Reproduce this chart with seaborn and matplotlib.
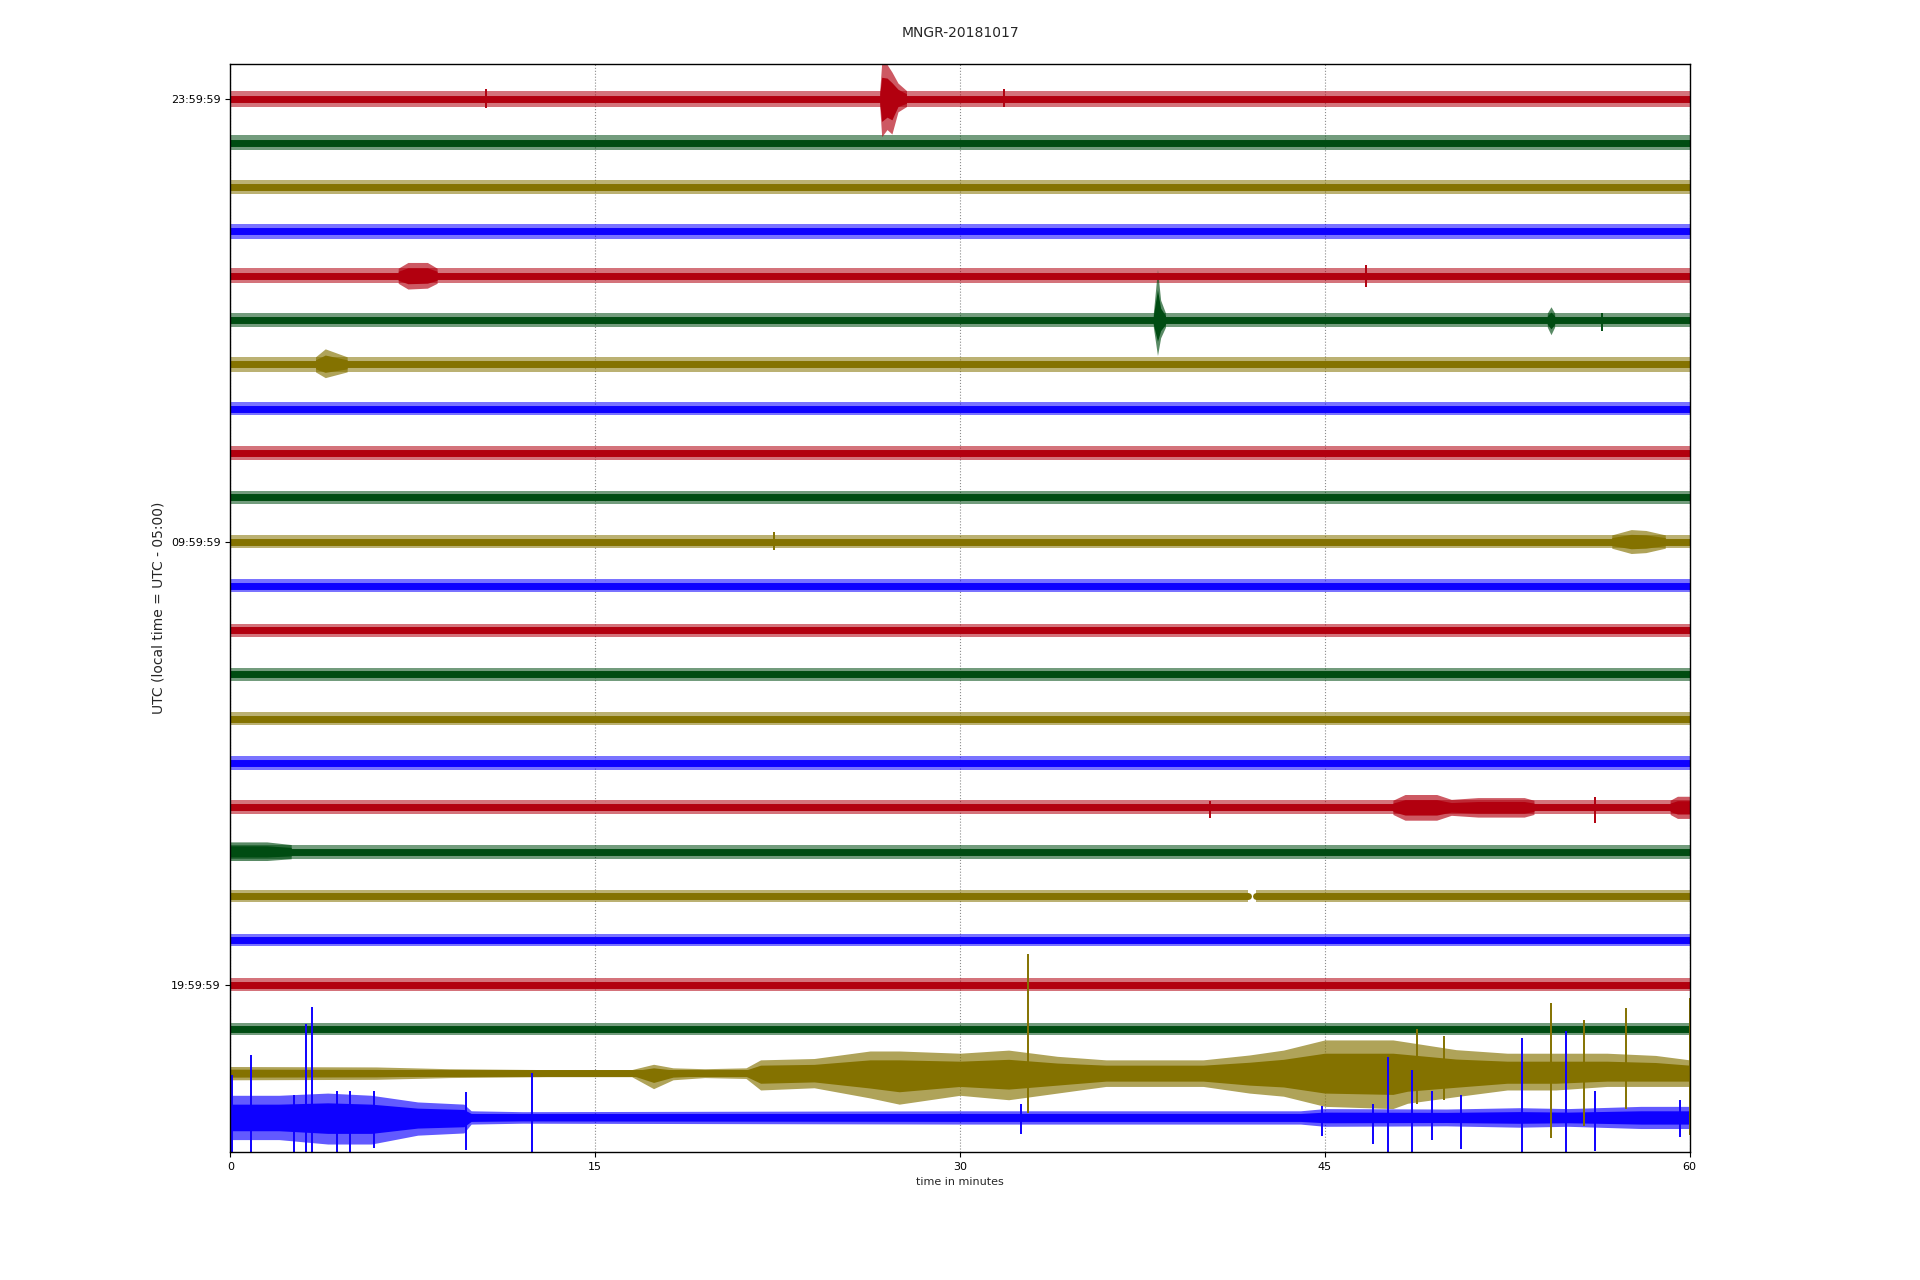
"""
Day plot of the MNGR station, one hour per line, 24 lines.
"""
import matplotlib
matplotlib.use("Agg")
import matplotlib.pyplot as plt
import pandas as pd
import seaborn as sns

TITLE = "MNGR-20181017"
TRACE_COLORS = ["#B2000F", "#004C12", "#847200", "#0E01FF"]
N_LINES = 24
YTICK_LINES = [0, 10, 20]
YTICK_LABELS = ["23:59:59", "09:59:59", "19:59:59"]
XTICKS = [0, 15, 30, 45, 60]

# half-width of the background noise of every line (unit = line spacing)
noise_level = [0.18, 0.17, 0.16, 0.16, 0.17, 0.16, 0.17, 0.15,
               0.15, 0.15, 0.15, 0.15, 0.15, 0.14, 0.15, 0.15,
               0.16, 0.16, 0.14, 0.14, 0.15, 0.14, 0.15, 0.15]

# parts of a line holding data (line 18 has a short gap)
segments = {18: [(0, 41.85), (42.16, 60)]}

# envelope of the two last lines, which are far from flat
olive_times = [0, 6, 9, 13, 16.5, 17.4, 18.2, 19.5, 21.2, 21.8, 24, 26.3, 27.5,
               30, 32, 34, 36, 40, 41.9, 43.3, 45, 47.8, 48.4, 50.4, 52.5,
               54.5, 56.6, 58.6, 60]
olive_up = [0.15, 0.14, 0.10, 0.08, 0.08, 0.20, 0.12, 0.10, 0.12, 0.30, 0.33, 0.50, 0.50,
            0.45, 0.52, 0.38, 0.30, 0.30, 0.41, 0.52, 0.75, 0.75, 0.70, 0.53, 0.45,
            0.45, 0.45, 0.40, 0.30]
olive_down = [0.15, 0.14, 0.10, 0.08, 0.08, 0.35, 0.15, 0.10, 0.12, 0.38, 0.33, 0.56, 0.70,
              0.50, 0.60, 0.45, 0.30, 0.30, 0.45, 0.52, 0.75, 0.80, 0.68, 0.53, 0.38,
              0.38, 0.30, 0.30, 0.30]

blue_times = [0, 2, 4, 5.8, 7.7, 9.6, 9.9, 12, 30, 44, 45, 50, 53, 55, 58, 60]
blue_up = [0.50, 0.50, 0.55, 0.50, 0.35, 0.30, 0.15, 0.13, 0.15, 0.15, 0.20, 0.19, 0.22, 0.20, 0.25, 0.25]
blue_down = [0.50, 0.50, 0.60, 0.60, 0.40, 0.35, 0.15, 0.13, 0.15, 0.15, 0.20, 0.19, 0.22, 0.20, 0.25, 0.25]

envelopes = {
    22: (olive_times, olive_up, olive_down),
    23: (blue_times, blue_up, blue_down),
}

# short bursts: line, minutes, upper half-width, lower half-width
bursts = [
    (0, [26.7, 26.78, 27.0, 27.2, 27.45, 27.8], [0.18, 0.80, 0.77, 0.60, 0.35, 0.18], [0.18, 0.86, 0.70, 0.80, 0.30, 0.18]),
    (4, [6.9, 7.3, 8.1, 8.5], [0.17, 0.30, 0.30, 0.17], [0.17, 0.30, 0.28, 0.17]),
    (5, [37.95, 38.12, 38.25, 38.45], [0.16, 1.14, 0.45, 0.16], [0.16, 0.80, 0.40, 0.16]),
    (5, [54.15, 54.3, 54.45], [0.16, 0.30, 0.16], [0.16, 0.33, 0.16]),
    (6, [3.5, 3.9, 4.8], [0.17, 0.35, 0.17], [0.17, 0.30, 0.17]),
    (10, [56.8, 57.6, 58.2, 59.0], [0.15, 0.27, 0.25, 0.15], [0.15, 0.27, 0.25, 0.15]),
    (16, [47.8, 48.3, 49.6, 50.2, 51.3, 53.2, 53.6], [0.16, 0.29, 0.29, 0.18, 0.22, 0.22, 0.16],
     [0.16, 0.29, 0.29, 0.18, 0.22, 0.22, 0.16]),
    (16, [59.2, 59.5, 60], [0.16, 0.25, 0.25], [0.16, 0.25, 0.25]),
    (17, [0, 1.5, 2.5], [0.22, 0.22, 0.16], [0.20, 0.20, 0.16]),
]

# single spikes: (line, minute, up, down)
spikes = [
    (0, 10.5, 0.22, 0.22), (0, 31.8, 0.22, 0.20),
    (4, 46.7, 0.25, 0.25), (5, 56.4, 0.15, 0.25),
    (10, 22.35, 0.22, 0.20), (16, 40.3, 0.15, 0.25), (16, 56.1, 0.24, 0.36),
    (22, 32.8, 2.7, 0.9), (22, 48.8, 1.0, 0.7), (22, 49.9, 0.83, 0.6),
    (22, 54.3, 1.58, 1.47), (22, 55.65, 1.2, 1.2), (22, 57.4, 1.47, 0.8),
    (22, 60.0, 1.7, 1.4),
    (23, 0.05, 0.95, 0.9), (23, 0.83, 1.4, 0.9), (23, 2.6, 0.5, 0.9),
    (23, 3.1, 2.1, 0.9), (23, 3.35, 2.5, 0.9), (23, 4.4, 0.6, 0.9),
    (23, 4.9, 0.6, 0.9), (23, 5.9, 0.6, 0.7), (23, 9.7, 0.57, 0.74),
    (23, 12.4, 1.0, 0.9), (23, 32.5, 0.3, 0.38), (23, 44.9, 0.25, 0.42),
    (23, 47.0, 0.3, 0.6), (23, 47.6, 1.36, 0.9), (23, 48.6, 1.06, 0.9),
    (23, 49.4, 0.6, 0.5), (23, 50.6, 0.5, 0.72), (23, 53.1, 1.8, 0.9),
    (23, 54.9, 1.95, 0.9), (23, 56.1, 0.6, 0.75), (23, 59.6, 0.4, 0.45),
]


def line_color(line):
    return TRACE_COLORS[line % len(TRACE_COLORS)]


sns.set_style("ticks")
fig, ax = plt.subplots(figsize=(19.2, 12.8), dpi=100)
fig.subplots_adjust(left=0.12, right=0.88, top=0.95, bottom=0.10)

# core of every line
records = []
for line in range(N_LINES):
    for k, (t0, t1) in enumerate(segments.get(line, [(0, 60)])):
        records.append([f"L{line}", f"L{line}-{k}", t0, line])
        records.append([f"L{line}", f"L{line}-{k}", t1, line])
df = pd.DataFrame(records, columns=["line", "piece", "minute", "y"])
palette = {f"L{i}": line_color(i) for i in range(N_LINES)}
sns.lineplot(data=df, x="minute", y="y", hue="line", units="piece", estimator=None,
             palette=palette, linewidth=5.0, legend=False, ax=ax)

# noise halo around each line
for line in range(N_LINES):
    c = line_color(line)
    if line in envelopes:
        times, up, down = envelopes[line]
        ax.fill_between(times, [line - u for u in up], [line + d for d in down],
                        color=c, alpha=0.65, lw=0)
        ax.fill_between(times, [line - 0.6 * u for u in up], [line + 0.6 * d for d in down],
                        color=c, lw=0)
        continue
    n = noise_level[line]
    for t0, t1 in segments.get(line, [(0, 60)]):
        ax.fill_between([t0, t1], line - n, line + n, color=c, alpha=0.55, lw=0)

for line, times, up, down in bursts:
    c = line_color(line)
    ax.fill_between(times, [line - u for u in up], [line + d for d in down],
                    color=c, alpha=0.65, lw=0)
    ax.fill_between(times, [line - 0.6 * u for u in up], [line + 0.6 * d for d in down],
                    color=c, lw=0)

for line, t, up, down in spikes:
    ax.vlines(t, line - up, line + down, color=line_color(line), lw=1.4)

ax.set_xlim(0, 60)
ax.set_ylim(23.78, -0.78)
ax.set_xticks(XTICKS)
ax.set_xticklabels([str(x) for x in XTICKS])
ax.set_yticks(YTICK_LINES)
ax.set_yticklabels(YTICK_LABELS)
ax.tick_params(axis="both", length=3.5, width=0.8, labelsize=8, colors="black")
ax.xaxis.grid(True, linestyle=":", color="0.55", lw=0.8)
ax.set_axisbelow(True)
for sp in ax.spines.values():
    sp.set_visible(True)
    sp.set_color("black")
    sp.set_linewidth(1.0)

ax.set_xlabel("time in minutes", fontsize=8)
ax.set_ylabel("UTC (local time = UTC - 05:00)", fontsize=10)
fig.suptitle(TITLE, fontsize=10, y=0.98)

plt.savefig("out.png", dpi=100)
plt.close()
